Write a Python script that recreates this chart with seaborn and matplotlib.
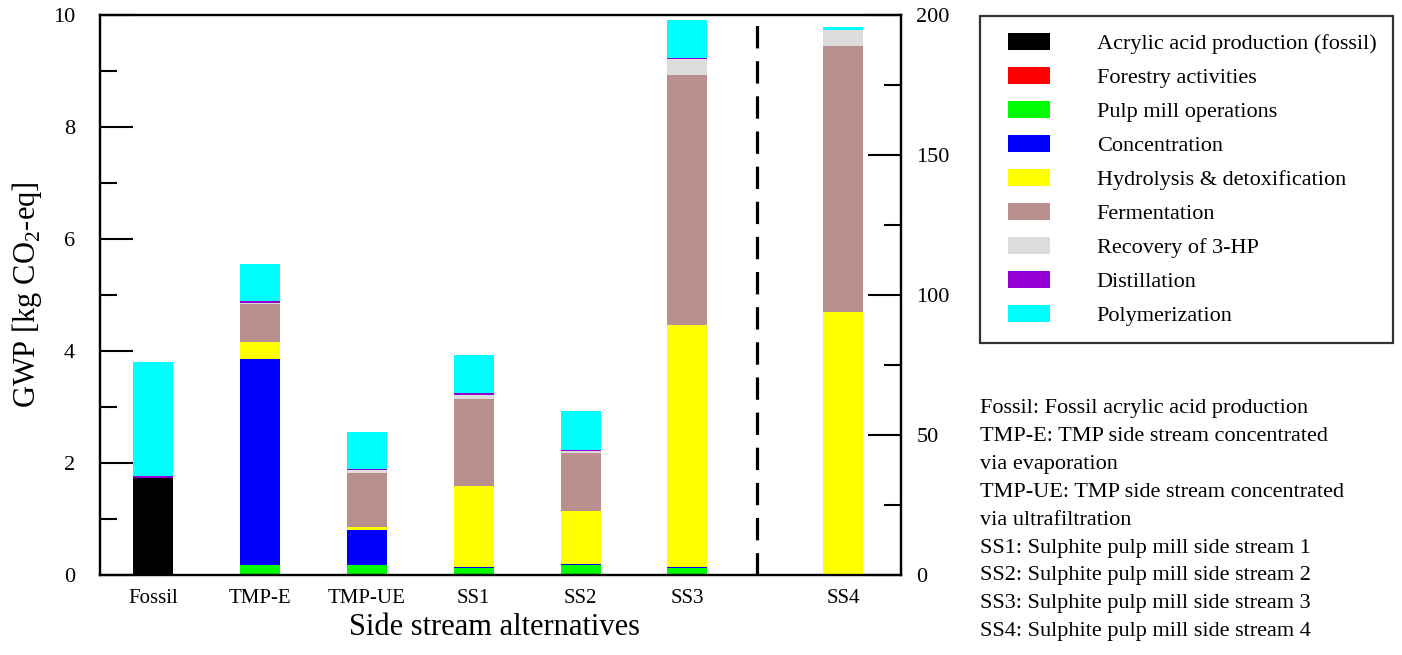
import numpy as np
import pandas as pd
import matplotlib
matplotlib.use("Agg")
import matplotlib.pyplot as plt
from matplotlib.patches import Patch, Rectangle
from matplotlib.legend_handler import HandlerPatch
from matplotlib.ticker import MultipleLocator
import seaborn as sns

# ---------------- data ----------------
alternatives = ["Fossil", "TMP-E", "TMP-UE", "SS1", "SS2", "SS3"]
alt_positions = [1, 2, 3, 4, 5, 6]
ss4_label = "SS4"
ss4_position = 7.46
divider_position = 6.65

categories = ["Acrylic acid production (fossil)", "Forestry activities",
              "Pulp mill operations", "Concentration",
              "Hydrolysis & detoxification", "Fermentation",
              "Recovery of 3-HP", "Distillation", "Polymerization"]
colors = ["#000000", "#ff0000", "#00ff00", "#0000ff", "#ffff00",
          "#bc8f8f", "#dcdcdc", "#9400d3", "#00ffff"]

# left axis values (kg CO2-eq), per category for Fossil..SS3
acrylic = [1.74, 0, 0, 0, 0, 0]
forestry = [0, 0.01, 0.01, 0.01, 0.01, 0.01]
pulp = [0, 0.16, 0.16, 0.11, 0.17, 0.12]
concentration = [0, 3.69, 0.63, 0.03, 0.02, 0.02]
hydrolysis = [0, 0.30, 0.06, 1.44, 0.94, 4.32]
fermentation = [0, 0.68, 0.97, 1.56, 1.04, 4.46]
recovery = [0, 0.02, 0.05, 0.07, 0.04, 0.29]
distillation = [0.03, 0.03, 0.02, 0.03, 0.02, 0.01]
polymerization = [2.03, 0.67, 0.66, 0.67, 0.68, 0.68]

# right axis values for SS4, same category order
ss4_values = [0, 0, 0, 0, 93.8, 95.0, 5.8, 0, 1.2]

notes = ["Fossil: Fossil acrylic acid production",
         "TMP-E: TMP side stream concentrated",
         "via evaporation",
         "TMP-UE: TMP side stream concentrated",
         "via ultrafiltration",
         "SS1: Sulphite pulp mill side stream 1",
         "SS2: Sulphite pulp mill side stream 2",
         "SS3: Sulphite pulp mill side stream 3",
         "SS4: Sulphite pulp mill side stream 4"]

series = [acrylic, forestry, pulp, concentration, hydrolysis,
          fermentation, recovery, distillation, polymerization]

# ---------------- style ----------------
sns.set_style("ticks")
plt.rcParams["font.family"] = ["Liberation Serif", "DejaVu Serif"]
plt.rcParams["mathtext.fontset"] = "custom"
plt.rcParams["mathtext.rm"] = "Liberation Serif"
for key in ["text.color", "axes.labelcolor", "xtick.color", "ytick.color",
            "axes.edgecolor"]:
    plt.rcParams[key] = "black"

fig = plt.figure(figsize=(14.02, 6.55), dpi=100)
ax = fig.add_axes([100 / 1402, 80 / 655, 801 / 1402, 560 / 655])
ax2 = ax.twinx()

left_vals = np.array(series, dtype=float)
left_cum = np.cumsum(left_vals, axis=0)
right_vals = np.array(ss4_values, dtype=float)
right_cum = np.cumsum(right_vals)

bar_width = 0.375
for i in range(len(categories) - 1, -1, -1):
    df = pd.DataFrame({"pos": alt_positions, "top": left_cum[i]})
    sns.barplot(data=df, x="pos", y="top", native_scale=True, color=colors[i],
                saturation=1, width=bar_width, linewidth=0, errorbar=None, ax=ax)
    df2 = pd.DataFrame({"pos": [ss4_position], "top": [right_cum[i]]})
    sns.barplot(data=df2, x="pos", y="top", native_scale=True, color=colors[i],
                saturation=1, width=bar_width, linewidth=0, errorbar=None, ax=ax2)

ax.axvline(divider_position, color="black", lw=2.3, ls=(0, (7, 4)))

ax.set_xlim(0.5, 8.0)
ax2.set_xlim(0.5, 8.0)
ax.set_ylim(0, 10)
ax2.set_ylim(0, 200)

ax.set_xticks(alt_positions + [ss4_position])
ax.set_xticklabels(alternatives + [ss4_label], fontsize=15)
ax.tick_params(axis="x", length=0, pad=10)

ax.yaxis.set_major_locator(MultipleLocator(2))
ax.yaxis.set_minor_locator(MultipleLocator(1))
ax.tick_params(axis="y", which="major", direction="in", length=24, width=1.5,
               labelsize=16, pad=18)
ax.tick_params(axis="y", which="minor", direction="in", length=12, width=1.5)

ax2.yaxis.set_major_locator(MultipleLocator(50))
ax2.yaxis.set_minor_locator(MultipleLocator(25))
ax2.tick_params(axis="y", which="major", direction="in", length=24, width=1.5,
                labelsize=16, pad=11)
ax2.tick_params(axis="y", which="minor", direction="in", length=12, width=1.5)
ax2.set_ylabel("")
ax2.set_xlabel("")

for a in (ax, ax2):
    for s in a.spines.values():
        s.set_visible(True)
        s.set_linewidth(1.6)
        s.set_color("black")

ax.set_ylabel("GWP [kg CO$_\\mathregular{2}$-eq]", fontsize=22)
ax.yaxis.set_label_coords(-0.07, 0.5)
ax.set_xlabel("Side stream alternatives", fontsize=22)
ax.xaxis.set_label_coords(0.492, -0.068)

class OffsetPatchHandler(HandlerPatch):
    def __init__(self, offset_px, **kw):
        super().__init__(**kw)
        self.offset_px = offset_px

    def create_artists(self, legend, orig_handle, xdescent, ydescent, width,
                       height, fontsize, trans):
        off = self.offset_px * 72 / fig.dpi
        p = Rectangle((-xdescent + off, -ydescent), width - off, height,
                      facecolor=orig_handle.get_facecolor(), edgecolor="none",
                      transform=trans)
        return [p]

handles = [Patch(facecolor=c, edgecolor="none") for c in colors]
leg = fig.legend(handles, categories, loc="upper left",
                 bbox_to_anchor=(980 / 1402, 1 - 16 / 655),
                 bbox_transform=fig.transFigure, borderaxespad=0,
                 fontsize=16, frameon=True, fancybox=False, shadow=False,
                 handlelength=2.4, handleheight=0.85, handletextpad=2.1,
                 labelspacing=0.56, borderpad=0.75,
                 handler_map={Patch: OffsetPatchHandler(11)})
leg.get_frame().set_edgecolor("black")
leg.get_frame().set_linewidth(1.6)

for k, line in enumerate(notes):
    y = 408.5 + k * 27.9
    fig.text(980 / 1402, 1 - y / 655, line, fontsize=16, ha="left", va="center")

fig.savefig("out.png", dpi=100)
